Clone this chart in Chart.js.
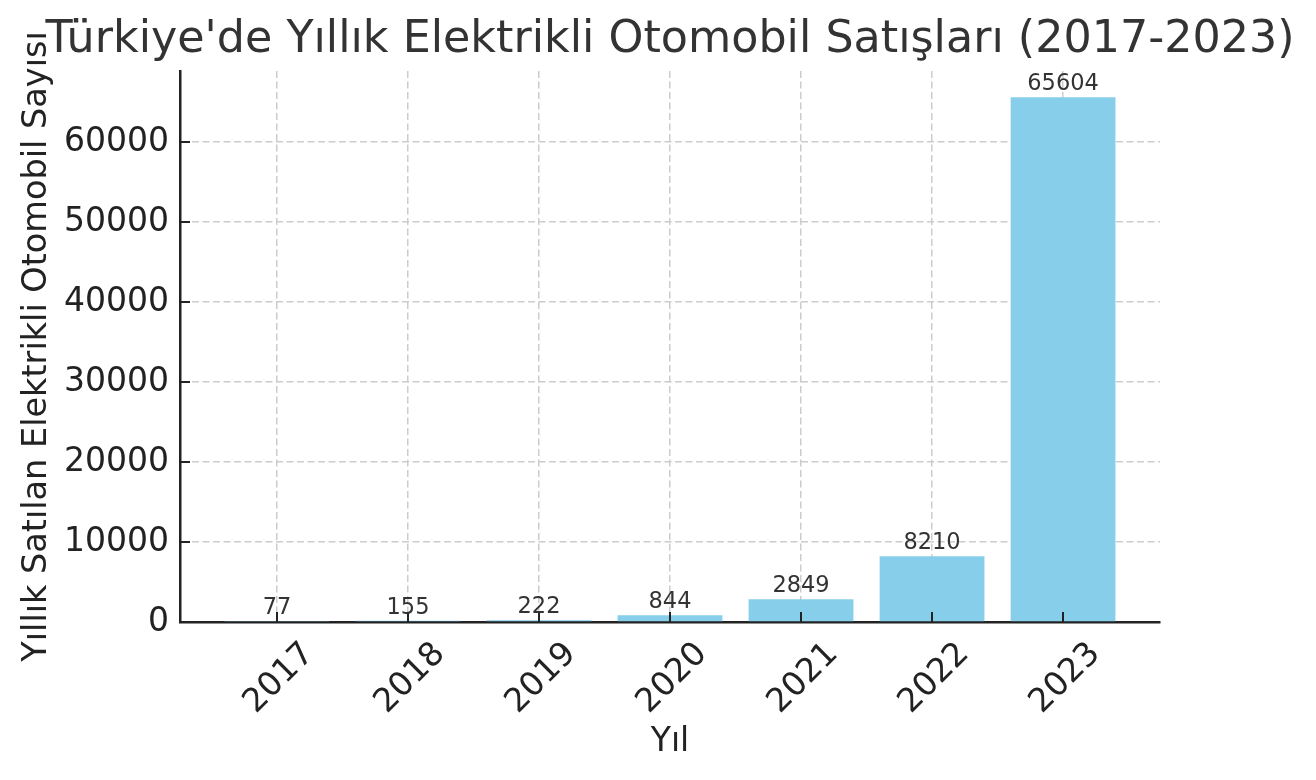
<!DOCTYPE html>
<html><head><meta charset="utf-8">
<script src="https://cdn.jsdelivr.net/npm/chart.js@4.4.0/dist/chart.umd.min.js"></script>
<style>html,body{margin:0;padding:0;background:#fff}canvas{display:block}</style>
</head><body>
<canvas id="c" width="1316" height="780"></canvas>
<script>
const years = ['2017', '2018', '2019', '2020', '2021', '2022', '2023'];
const sales = [77, 155, 222, 844, 2849, 8210, 65604];
const yTickValues = [0, 10000, 20000, 30000, 40000, 50000, 60000];
const titleText = "Türkiye'de Yıllık Elektrikli Otomobil Satışları (2017-2023)";
const xTitleText = 'Yıl';
const yTitleText = 'Yıllık Satılan Elektrikli Otomobil Sayısı';

const FAMILY = "'DejaVu Sans', sans-serif";
const GRID = '#cccccc';
const AXIS = '#222222';

const overlay = {
  id: 'overlay',
  afterDraw(chart) {
    const { ctx, chartArea: a, scales: { x, y } } = chart;
    ctx.save();
    ctx.strokeStyle = AXIS; ctx.lineWidth = 2;
    ctx.beginPath();
    years.forEach((_, i) => {
      const px = Math.round(x.getPixelForValue(i));
      ctx.moveTo(px, a.bottom); ctx.lineTo(px, a.bottom - 10);
    });
    yTickValues.forEach(v => {
      const py = Math.round(y.getPixelForValue(v));
      ctx.moveTo(a.left, py); ctx.lineTo(a.left + 10, py);
    });
    ctx.stroke();
    ctx.fillStyle = AXIS;
    ctx.font = `33px ${FAMILY}`;
    ctx.textAlign = 'center'; ctx.textBaseline = 'alphabetic';
    years.forEach((t, i) => {
      const px = x.getPixelForValue(i);
      ctx.save();
      ctx.translate(px, a.bottom + 54);
      ctx.rotate(-Math.PI / 4);
      ctx.fillText(t, 0, 12);
      ctx.restore();
    });
    const meta = chart.getDatasetMeta(0);
    ctx.fillStyle = '#333333';
    ctx.font = `22.5px ${FAMILY}`;
    meta.data.forEach((bar, i) => {
      ctx.fillText(String(sales[i]), bar.x, bar.y - 7);
    });
    ctx.restore();
  }
};

new Chart(document.getElementById('c'), {
  type: 'bar',
  data: {
    datasets: [{
      data: years.map((_, i) => ({ x: i, y: sales[i] })),
      backgroundColor: '#87CEEB',
      borderWidth: 0,
      barPercentage: 0.8,
      categoryPercentage: 1,
      yAxisID: 'y'
    }]
  },
  options: {
    responsive: false,
    animation: false,
    devicePixelRatio: 1,
    layout: { padding: { left: 24, right: 0, top: 0, bottom: 0 } },
    plugins: {
      legend: { display: false },
      tooltip: { enabled: false },
      title: {
        display: true, text: titleText, fullSize: true, color: '#333333',
        font: { family: FAMILY, size: 44.4, weight: 'normal', lineHeight: 1.2 },
        padding: { top: 14, bottom: 3.7 }
      }
    },
    scales: {
      x: {
        type: 'linear', min: -0.74, max: 6.74, offset: false, z: 1,
        afterBuildTicks: s => { s.ticks = years.map((_, i) => ({ value: i })); },
        afterFit: s => { s.height = 158; },
        ticks: { display: false },
        grid: { color: GRID, lineWidth: 1.5, drawTicks: false, offset: false },
        border: { display: true, color: AXIS, width: 2.5, dash: [7, 3.5] },
        title: {
          display: true, text: xTitleText, color: AXIS,
          font: { family: FAMILY, size: 33, lineHeight: 1.2 },
          padding: { top: 0, bottom: 18 }
        }
      },
      y: {
        position: 'left',
        min: 0, max: Math.max(...sales) * 1.05, z: 1,
        afterBuildTicks: s => { s.ticks = yTickValues.map(v => ({ value: v })); },
        afterFit: s => { s.width = 156; },
        ticks: {
          color: AXIS, padding: 11,
          font: { family: FAMILY, size: 33 },
          callback: v => String(v)
        },
        grid: {
          color: c => (c.tick && c.tick.value === 0 ? 'rgba(0,0,0,0)' : GRID),
          lineWidth: 1.5, drawTicks: false
        },
        border: { display: true, color: AXIS, width: 2.5, dash: [7, 3.5] },
        title: {
          display: true, text: yTitleText, color: AXIS,
          font: { family: FAMILY, size: 33.5, lineHeight: 1.2 },
          padding: { top: -7, bottom: 0 }
        }
      },
      yRight: {
        position: 'right',
        display: true,
        afterFit: s => { s.width = 156; },
        ticks: { display: false },
        grid: { display: false, drawTicks: false },
        border: { display: false }
      }
    }
  },
  plugins: [overlay]
});
</script>
</body></html>
